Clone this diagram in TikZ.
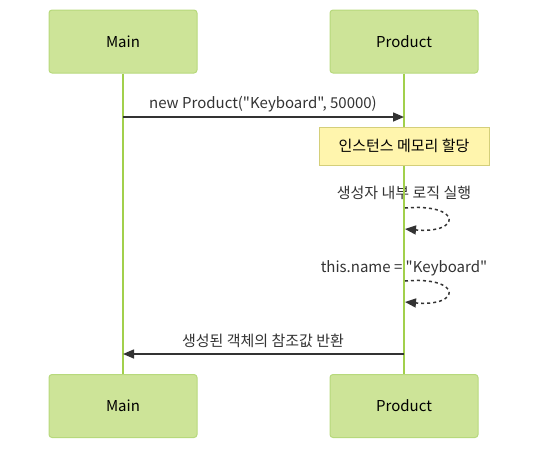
\documentclass[tikz,border=0pt]{standalone}
\usepackage{fontspec}
\newfontfamily\dfont{Noto Sans CJK KR}
\usetikzlibrary{arrows.meta}
\definecolor{actfill}{HTML}{CDE498}
\definecolor{actline}{HTML}{B7D97C}
\definecolor{lifeline}{HTML}{A2D04C}
\definecolor{notefill}{HTML}{FFF5AD}
\definecolor{noteline}{HTML}{D4CF7A}
\definecolor{txt}{HTML}{333333}
\tikzset{
  actor/.style={draw=actline, fill=actfill, line width=1pt, rounded corners=3pt, minimum width=148pt, minimum height=63pt, inner sep=0pt, font=\dfont\fontsize{15}{17}\selectfont, text=black},
  notebox/.style={draw=noteline, fill=notefill, line width=1pt, minimum width=170pt, minimum height=38pt, inner sep=0pt, font=\dfont\fontsize{15}{17}\selectfont, text=black},
  lbl/.style={font=\dfont\fontsize{15}{17}\selectfont, text=txt, inner sep=0pt},
  life/.style={draw=lifeline, line width=2pt},
  msg/.style={draw=txt, line width=1.5pt, -{Triangle[length=11pt,width=9pt]}},
  selfmsg/.style={draw=txt, line width=1.5pt, dash pattern=on 3pt off 3pt, -{Triangle[length=11pt,width=9pt]}}
}
\begin{document}
\begin{tikzpicture}[x=1pt,y=-1pt]
\useasboundingbox (0,0) rectangle (546,456);
% labels
\node[lbl] (l1) at (263,104) {new Product("Keyboard", 50000)};
\node[lbl] (l2) at (404,193) {생성자 내부 로직 실행};
\node[lbl] (l3) at (404,268) {this.name = "Keyboard"};
\node[lbl] (l4) at (263,341) {생성된 객체의 참조값 반환};
% actors
\node[actor] (mt) at (123,41.5) {Main};
\node[actor] (pt) at (404,41.5) {Product};
\node[actor] (mb) at (123,406) {Main};
\node[actor] (pb) at (404,406) {Product};
% lifelines
\draw[life] (mt.south) -- (mb.north);
\draw[life] (pt.south) -- (pb.north);
% message 1
\coordinate (a1) at (123,117);
\coordinate (b1) at (404,117);
\draw[msg] (a1) -- (b1);
% note
\node[notebox] (note) at (404,146) {인스턴스 메모리 할당};
% self loops
\coordinate (s1a) at (405,208);
\coordinate (s1b) at (405,229);
\draw[selfmsg] (s1a) .. controls (462,203) and (462,234) .. (s1b);
\coordinate (s2a) at (405,281);
\coordinate (s2b) at (405,302);
\draw[selfmsg] (s2a) .. controls (462,276) and (462,307) .. (s2b);
% return
\coordinate (a4) at (404,354);
\coordinate (b4) at (123,354);
\draw[msg] (a4) -- (b4);
\end{tikzpicture}
\end{document}
